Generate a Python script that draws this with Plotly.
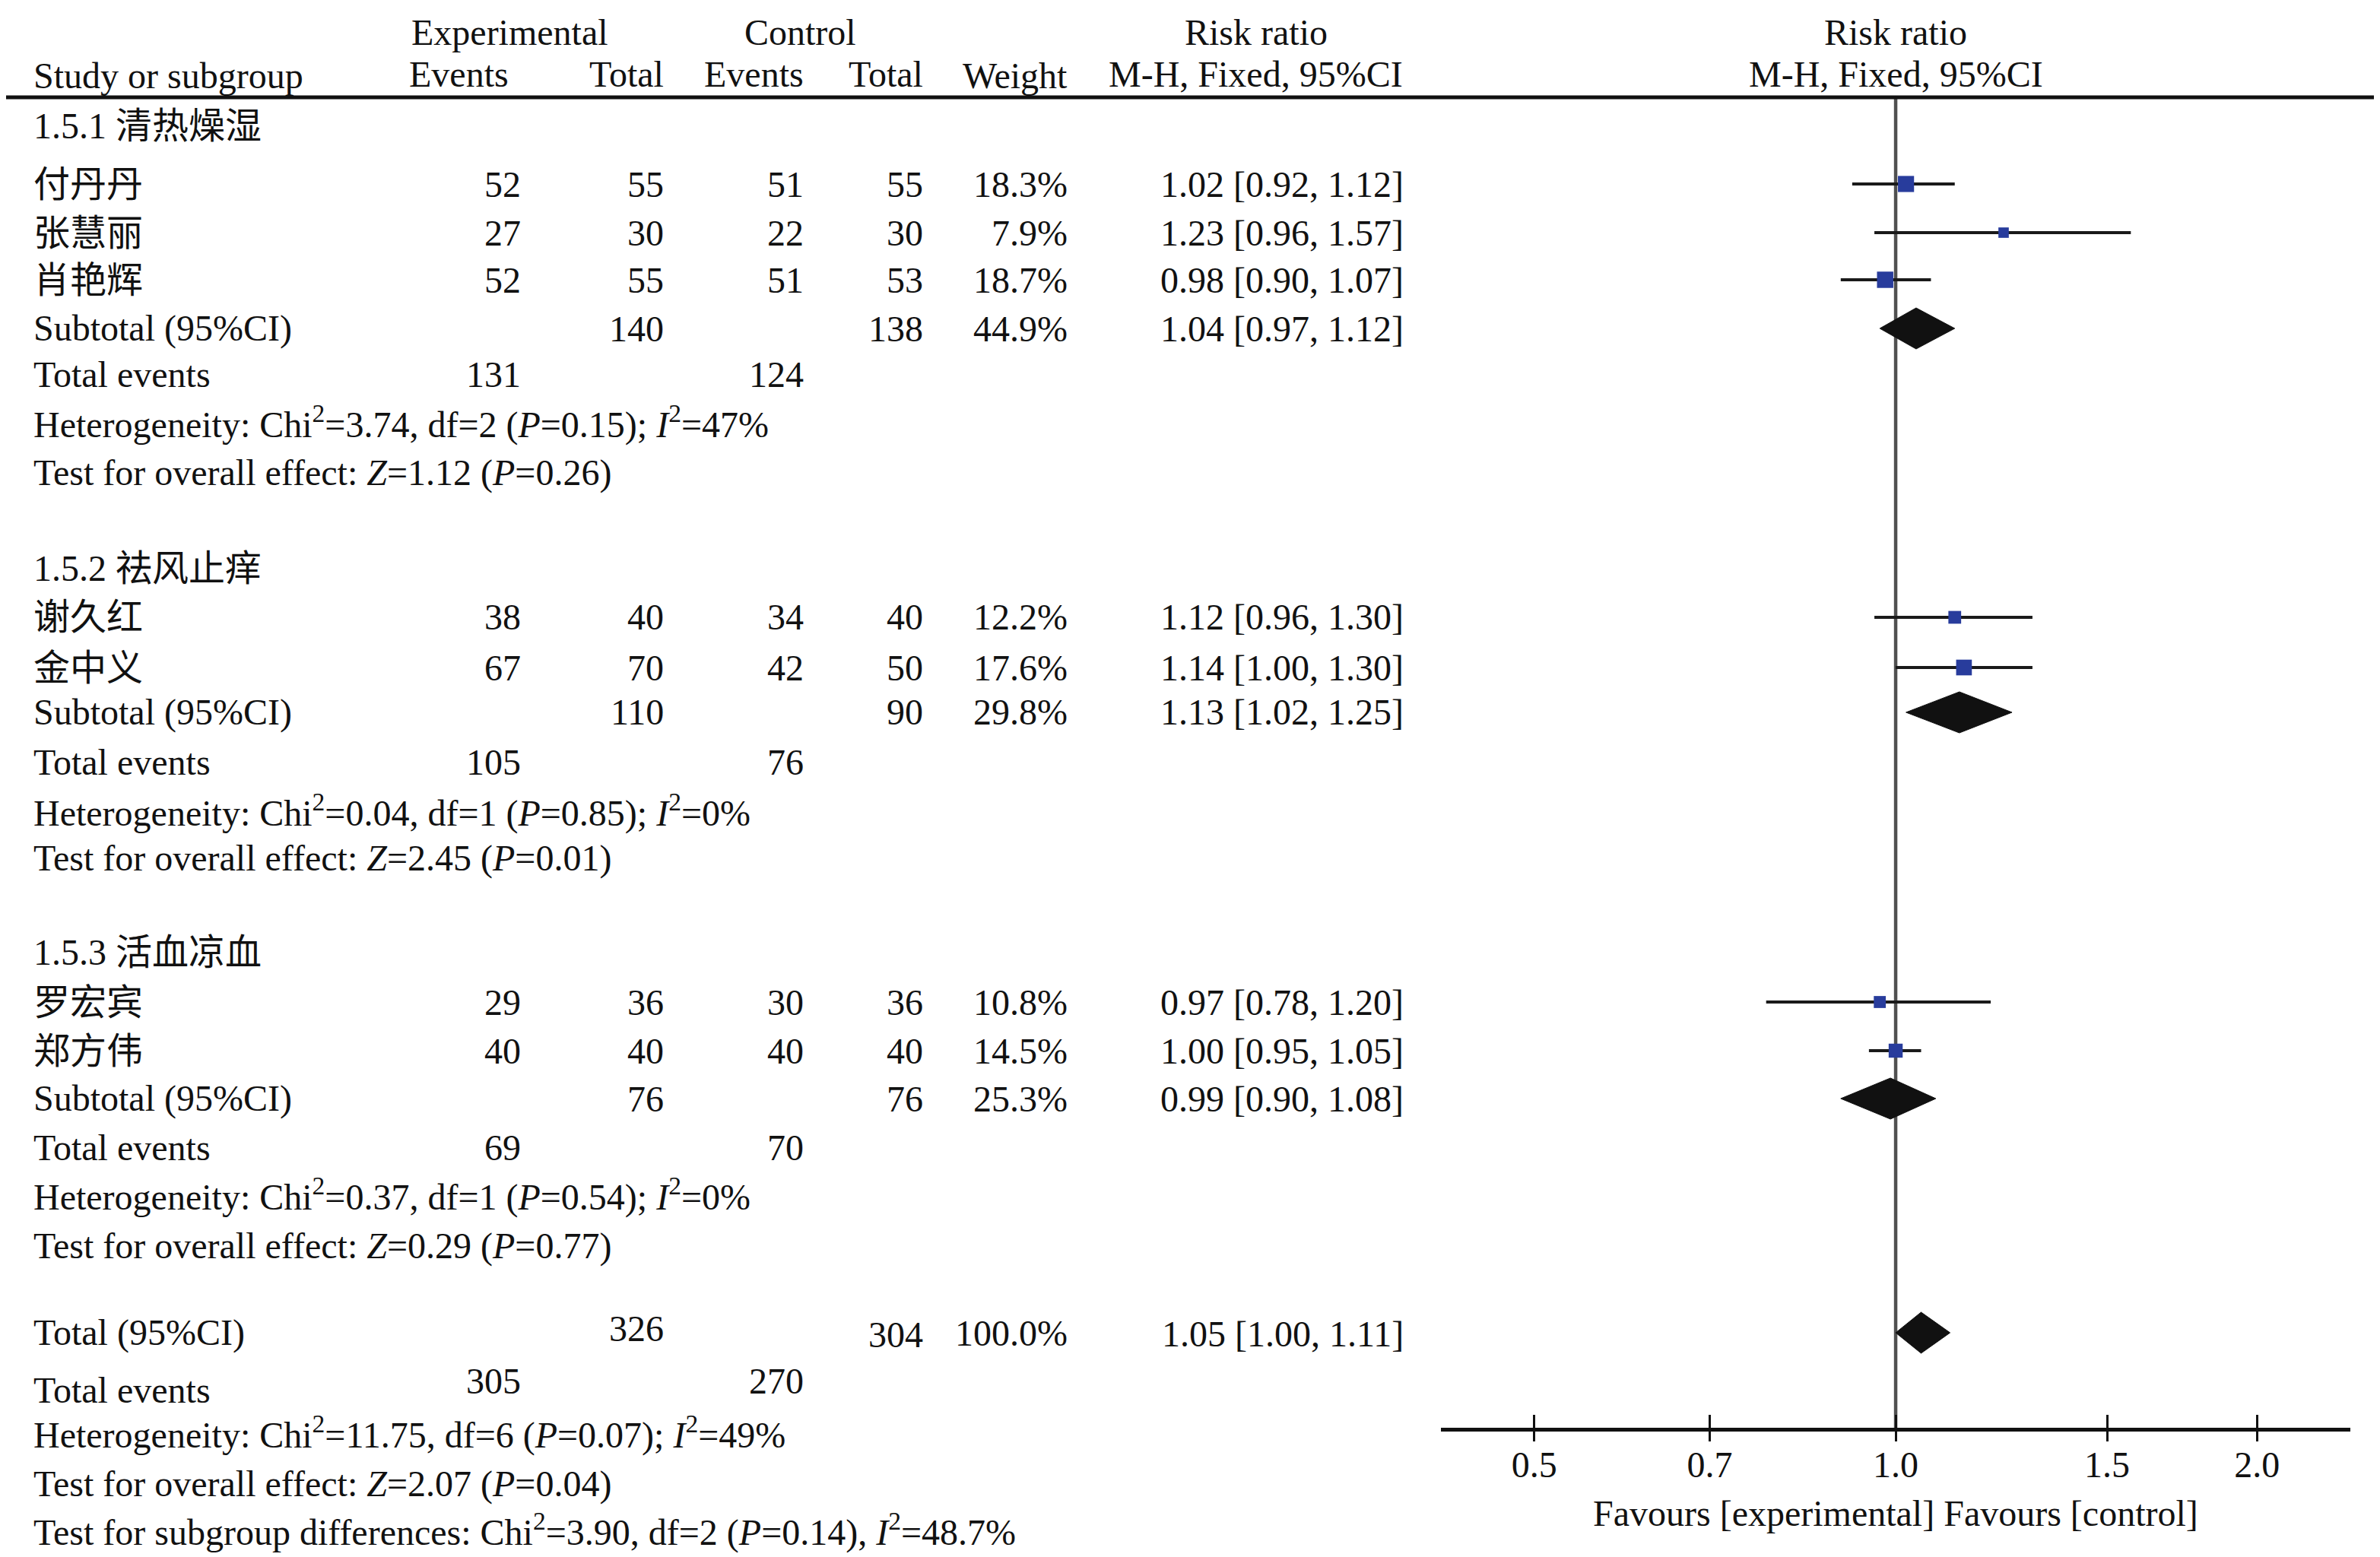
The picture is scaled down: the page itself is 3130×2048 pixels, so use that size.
import math
import plotly.graph_objects as go

# page body has an 8px margin: the figure is shifted so that reference pixel
# positions land where they are in the reference picture
W, H = 3130, 2048
OFF = 8
FW, FH = W - OFF, H - OFF

# ---------------- data ----------------
studies = ["付丹丹", "张慧丽", "肖艳辉", "谢久红", "金中义", "罗宏宾", "郑方伟"]
exp_events = [52, 27, 52, 38, 67, 29, 40]
exp_total = [55, 30, 55, 40, 70, 36, 40]
ctl_events = [51, 22, 51, 34, 42, 30, 40]
ctl_total = [55, 30, 53, 40, 50, 36, 40]
weights = [18.3, 7.9, 18.7, 12.2, 17.6, 10.8, 14.5]
rr = [1.02, 1.23, 0.98, 1.12, 1.14, 0.97, 1.00]
rr_lo = [0.92, 0.96, 0.90, 0.96, 1.00, 0.78, 0.95]
rr_hi = [1.12, 1.57, 1.07, 1.30, 1.30, 1.20, 1.05]

groups = ["1.5.1 清热燥湿", "1.5.2 祛风止痒", "1.5.3 活血凉血"]
sub_exp_total = [140, 110, 76]
sub_ctl_total = [138, 90, 76]
sub_weight = [44.9, 29.8, 25.3]
sub_rr = [1.04, 1.13, 0.99]
sub_lo = [0.97, 1.02, 0.90]
sub_hi = [1.12, 1.25, 1.08]
sub_exp_events = [131, 105, 69]
sub_ctl_events = [124, 76, 70]
sub_het = [
    "Heterogeneity: Chi<sup>2</sup>=3.74, df=2 (<i>P</i>=0.15); <i>I</i><sup>2</sup>=47%",
    "Heterogeneity: Chi<sup>2</sup>=0.04, df=1 (<i>P</i>=0.85); <i>I</i><sup>2</sup>=0%",
    "Heterogeneity: Chi<sup>2</sup>=0.37, df=1 (<i>P</i>=0.54); <i>I</i><sup>2</sup>=0%",
]
sub_z = [
    "Test for overall effect: <i>Z</i>=1.12 (<i>P</i>=0.26)",
    "Test for overall effect: <i>Z</i>=2.45 (<i>P</i>=0.01)",
    "Test for overall effect: <i>Z</i>=0.29 (<i>P</i>=0.77)",
]

total_exp_total = 326
total_ctl_total = 304
total_weight = 100.0
total_rr = 1.05
total_lo = 1.00
total_hi = 1.11
total_exp_events = 305
total_ctl_events = 270
total_het = "Heterogeneity: Chi<sup>2</sup>=11.75, df=6 (<i>P</i>=0.07); <i>I</i><sup>2</sup>=49%"
total_z = "Test for overall effect: <i>Z</i>=2.07 (<i>P</i>=0.04)"
subgroup_diff = "Test for subgroup differences: Chi<sup>2</sup>=3.90, df=2 (<i>P</i>=0.14), <i>I</i><sup>2</sup>=48.7%"

null_value = 1.0
tick_vals = [0.5, 0.7, 1.0, 1.5, 2.0]
tick_text = ["0.5", "0.7", "1.0", "1.5", "2.0"]
x_min, x_max = 0.418, 2.392

# ---------------- layout (reference pixel rows / columns) ----------------
group_y = [166, 747, 1252]
study_y = [242, 306, 368, 812, 878, 1318, 1382]
sub_y = [432, 937, 1445]
sub_events_y = [492, 1002, 1509]
sub_het_y = [556, 1066, 1571]
sub_z_y = [622, 1129, 1639]
total_y = 1753
total_events_y = 1828
total_het_y = 1884
total_z_y = 1952
subgroup_y = 2012

LEFT = 42
C_EXP_EV, C_EXP_TOT, C_CTL_EV, C_CTL_TOT, C_W, C_RR = 687, 875, 1059, 1216, 1406, 1848
AX_LEFT, AX_RIGHT, AX_Y, HEADER_Y = 1895, 3091, 1878, 128


def px(x):
    return (x - OFF) / FW


def py(y):
    return 1 - (y - OFF) / FH


FONT = "Liberation Serif, 'Times New Roman', 'Noto Sans CJK SC', serif"
FS = 48
INK = "#111111"
BLUE = "#283C9C"

annotations = []


def txt(xp, yp, s, anchor="right"):
    annotations.append(dict(
        x=px(xp), y=py(yp), xref="paper", yref="paper",
        text=s, showarrow=False, xanchor=anchor, yanchor="middle",
        font=dict(family=FONT, size=FS, color=INK),
    ))


# headers
txt(670, 42, "Experimental", "center")
txt(1052, 42, "Control", "center")
txt(1652, 42, "Risk ratio", "center")
txt(2493, 42, "Risk ratio", "center")
txt(LEFT, 100, "Study or subgroup", "left")
txt(671, 98, "Events")
txt(C_EXP_TOT, 98, "Total")
txt(C_CTL_EV, 98, "Events")
txt(C_CTL_TOT, 98, "Total")
txt(C_W, 100, "Weight")
txt(1652, 98, "M-H, Fixed, 95%CI", "center")
txt(2493, 98, "M-H, Fixed, 95%CI", "center")


def rr_str(e, l, h):
    return f"{e:.2f} [{l:.2f}, {h:.2f}]"


for i, s in enumerate(studies):
    y = study_y[i]
    txt(LEFT, y, s, "left")
    txt(C_EXP_EV, y, str(exp_events[i]))
    txt(C_EXP_TOT, y, str(exp_total[i]))
    txt(C_CTL_EV, y, str(ctl_events[i]))
    txt(C_CTL_TOT, y, str(ctl_total[i]))
    txt(C_W, y, f"{weights[i]:.1f}%")
    txt(C_RR, y, rr_str(rr[i], rr_lo[i], rr_hi[i]))

for g in range(3):
    txt(LEFT, group_y[g], groups[g], "left")
    y = sub_y[g]
    txt(LEFT, y, "Subtotal (95%CI)", "left")
    txt(C_EXP_TOT, y, str(sub_exp_total[g]))
    txt(C_CTL_TOT, y, str(sub_ctl_total[g]))
    txt(C_W, y, f"{sub_weight[g]:.1f}%")
    txt(C_RR, y, rr_str(sub_rr[g], sub_lo[g], sub_hi[g]))
    y = sub_events_y[g]
    txt(LEFT, y, "Total events", "left")
    txt(C_EXP_EV, y, str(sub_exp_events[g]))
    txt(C_CTL_EV, y, str(sub_ctl_events[g]))
    txt(LEFT, sub_het_y[g], sub_het[g], "left")
    txt(LEFT, sub_z_y[g], sub_z[g], "left")

txt(LEFT, total_y, "Total (95%CI)", "left")
txt(C_EXP_TOT, total_y - 6, str(total_exp_total))
txt(C_CTL_TOT, total_y + 2, str(total_ctl_total))
txt(C_W, total_y, f"{total_weight:.1f}%")
txt(C_RR, total_y + 1, rr_str(total_rr, total_lo, total_hi))
txt(LEFT, total_events_y, "Total events", "left")
txt(C_EXP_EV, total_events_y - 12, str(total_exp_events))
txt(C_CTL_EV, total_events_y - 12, str(total_ctl_events))
txt(LEFT, total_het_y, total_het, "left")
txt(LEFT, total_z_y, total_z, "left")
txt(LEFT, subgroup_y, subgroup_diff, "left")

# axis caption
annotations.append(dict(
    x=math.log10(null_value), y=py(1990), xref="x", yref="paper",
    text="Favours [experimental] Favours [control]", showarrow=False,
    xanchor="center", yanchor="middle",
    font=dict(family=FONT, size=FS, color=INK),
))

fig = go.Figure()

# null line at RR = 1
fig.add_trace(go.Scatter(x=[null_value, null_value], y=[HEADER_Y, AX_Y], mode="lines",
                         line=dict(color="#505050", width=4.5), hoverinfo="skip",
                         showlegend=False))

# CI lines
ci_x, ci_y = [], []
for i in range(len(studies)):
    ci_x += [rr_lo[i], rr_hi[i], None]
    ci_y += [study_y[i], study_y[i], None]
fig.add_trace(go.Scatter(x=ci_x, y=ci_y, mode="lines", line=dict(color="#1a1a1a", width=4),
                         hoverinfo="skip", showlegend=False))

# study squares
fig.add_trace(go.Scatter(
    x=rr, y=study_y, mode="markers",
    marker=dict(symbol="square", color=BLUE, opacity=1,
                size=[8 + 0.72 * w for w in weights], line=dict(width=0)),
    text=studies, showlegend=False))

# diamonds
HALF = 27


def diamond(e, l, h, yc):
    fig.add_trace(go.Scatter(
        x=[l, e, h, e, l], y=[yc, yc - HALF, yc, yc + HALF, yc],
        mode="lines", fill="toself", fillcolor=INK, line=dict(color=INK, width=1),
        hoverinfo="skip", showlegend=False))


for g in range(3):
    diamond(sub_rr[g], sub_lo[g], sub_hi[g], sub_y[g])
diamond(total_rr, total_lo, total_hi, total_y)

# invisible trace to carry the second (outside-tick) axis
fig.add_trace(go.Scatter(x=[null_value], y=[total_y], xaxis="x2", mode="markers",
                         marker=dict(opacity=0), hoverinfo="skip", showlegend=False))

x_range = [math.log10(x_min), math.log10(x_max)]
common_x = dict(type="log", range=x_range, domain=[px(AX_LEFT), px(AX_RIGHT)],
                tickvals=tick_vals, showgrid=False, zeroline=False, fixedrange=True)

fig.update_layout(
    width=FW, height=FH,
    margin=dict(l=0, r=0, t=0, b=0),
    paper_bgcolor="white", plot_bgcolor="white",
    showlegend=False,
    xaxis=dict(**common_x, ticktext=tick_text, ticks="inside", ticklen=17, tickwidth=3,
               tickcolor=INK, showline=True, linecolor=INK, linewidth=5,
               tickfont=dict(family=FONT, size=FS, color=INK), anchor="y",
               ticklabelstandoff=2),
    xaxis2=dict(**common_x, overlaying="x", anchor="y", side="bottom", ticks="outside",
                ticklen=17, tickwidth=3, tickcolor=INK, showticklabels=False, showline=False),
    yaxis=dict(domain=[py(AX_Y), py(HEADER_Y)], range=[AX_Y, HEADER_Y],
               visible=False, fixedrange=True),
    annotations=annotations,
    shapes=[
        dict(type="line", xref="paper", yref="paper", x0=0, x1=1,
             y0=py(HEADER_Y), y1=py(HEADER_Y), line=dict(color=INK, width=5)),
    ],
)

fig.write_html("out.html")
